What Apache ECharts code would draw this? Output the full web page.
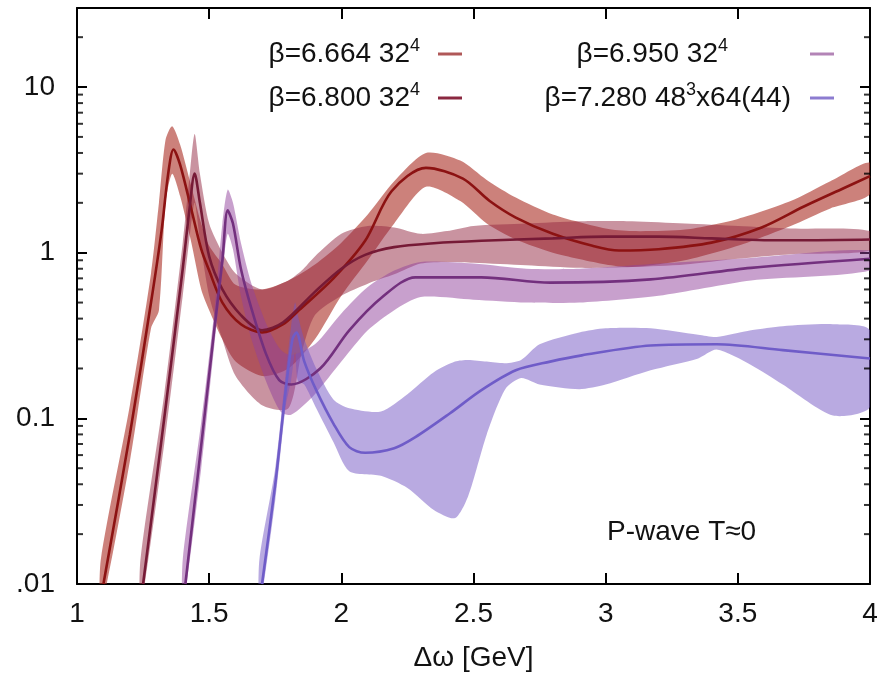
<!DOCTYPE html>
<html>
<head>
<meta charset="utf-8">
<title>P-wave spectral functions</title>
<script src="https://cdn.jsdelivr.net/npm/echarts@6/dist/echarts.min.js"></script>
<style>
  html, body { margin: 0; padding: 0; background: #fff; }
  #chart { width: 887px; height: 680px; }
</style>
</head>
<body>
<div id="chart"></div>
<script>
// ---- data: central curves and error bands, ρ(Δω) on a log scale ----
const legendNames = ['b6664', 'b6800', 'b6950', 'b7280'];
const legendTexts = {
  b6664: ['β=6.664 32', '4', ''],
  b6800: ['β=6.800 32', '4', ''],
  b6950: ['β=6.950 32', '4', ''],
  b7280: ['β=7.280 48', '3', 'x64(44)']
};

// β=6.664 32^4
const aX = [1.10, 1.20, 1.28, 1.32, 1.345, 1.365, 1.39, 1.43, 1.47, 1.50, 1.55, 1.62, 1.70, 1.78, 1.84, 1.97, 2.09, 2.19, 2.32, 2.46, 2.56, 2.66, 2.80, 2.95, 3.05, 3.20, 3.40, 3.59, 3.75, 3.90, 4.00];
const aY = [0.01, 0.08, 0.5, 1.36, 3.0, 4.2, 3.4, 1.9, 1.05, 0.78, 0.5, 0.37, 0.33, 0.37, 0.45, 0.7, 1.18, 2.35, 3.25, 2.8, 2.06, 1.63, 1.3, 1.1, 1.03, 1.05, 1.15, 1.42, 1.9, 2.45, 2.9];
const aBandX = [1.09, 1.20, 1.28, 1.31, 1.335, 1.36, 1.39, 1.43, 1.47, 1.50, 1.55, 1.60, 1.70, 1.80, 1.90, 2.00, 2.10, 2.20, 2.32, 2.45, 2.55, 2.66, 2.80, 3.00, 3.10, 3.30, 3.50, 3.70, 3.85, 4.00];
const aLo = [0.007, 0.055, 0.35, 0.45, 2.0, 3.0, 2.2, 1.2, 0.6, 0.45, 0.3, 0.22, 0.18, 0.2, 0.3, 0.55, 0.9, 1.5, 2.5, 2.05, 1.5, 1.2, 1.0, 0.85, 0.82, 0.9, 1.1, 1.45, 1.85, 2.25];
const aHi = [0.014, 0.12, 0.75, 2.0, 4.8, 5.8, 4.5, 2.6, 1.5, 1.1, 0.85, 0.64, 0.6, 0.68, 0.85, 1.15, 1.7, 2.7, 4.0, 3.6, 2.75, 2.15, 1.7, 1.4, 1.35, 1.38, 1.6, 2.05, 2.7, 3.5];

// β=6.800 32^4
const bX = [1.25, 1.33, 1.40, 1.425, 1.445, 1.465, 1.50, 1.55, 1.62, 1.70, 1.78, 1.90, 2.00, 2.09, 2.20, 2.35, 2.53, 2.80, 3.00, 3.20, 3.40, 3.60, 3.80, 4.00];
const bY = [0.01, 0.1, 0.8, 1.8, 3.0, 2.0, 0.95, 0.6, 0.42, 0.34, 0.38, 0.58, 0.8, 0.97, 1.08, 1.14, 1.18, 1.22, 1.25, 1.25, 1.22, 1.19, 1.19, 1.2];
const bBandX = [1.24, 1.33, 1.40, 1.425, 1.445, 1.465, 1.50, 1.55, 1.60, 1.70, 1.80, 1.85, 1.90, 2.00, 2.10, 2.20, 2.30, 2.40, 2.50, 2.70, 2.90, 3.10, 3.30, 3.50, 3.70, 4.00];
const bLo = [0.007, 0.07, 0.55, 1.2, 2.0, 1.2, 0.55, 0.3, 0.18, 0.12, 0.115, 0.25, 0.42, 0.55, 0.65, 0.74, 0.86, 0.88, 0.87, 0.84, 0.81, 0.82, 0.85, 0.92, 0.98, 1.03];
const bHi = [0.014, 0.14, 1.15, 2.8, 5.2, 3.0, 1.5, 1.0, 0.75, 0.6, 0.68, 0.78, 0.95, 1.3, 1.45, 1.42, 1.3, 1.35, 1.45, 1.5, 1.55, 1.55, 1.5, 1.45, 1.4, 1.35];

// β=6.950 32^4
const cX = [1.41, 1.47, 1.52, 1.55, 1.57, 1.59, 1.62, 1.66, 1.715, 1.765, 1.81, 1.92, 2.03, 2.155, 2.28, 2.53, 2.79, 3.17, 3.55, 4.00];
const cY = [0.01, 0.069, 0.35, 0.9, 1.8, 1.5, 0.8, 0.46, 0.245, 0.17, 0.16, 0.2, 0.34, 0.54, 0.71, 0.71, 0.66, 0.69, 0.81, 0.92];
const cBandX = [1.40, 1.47, 1.52, 1.55, 1.57, 1.59, 1.62, 1.66, 1.72, 1.77, 1.81, 1.90, 2.00, 2.10, 2.20, 2.30, 2.50, 2.70, 2.90, 3.20, 3.55, 4.00];
const cLo = [0.007, 0.05, 0.28, 0.75, 1.3, 1.05, 0.55, 0.3, 0.16, 0.11, 0.105, 0.14, 0.22, 0.34, 0.45, 0.54, 0.52, 0.5, 0.5, 0.55, 0.68, 0.78];
const cHi = [0.014, 0.095, 0.45, 1.5, 2.4, 2.0, 1.15, 0.65, 0.36, 0.26, 0.24, 0.28, 0.43, 0.62, 0.78, 0.88, 0.86, 0.8, 0.8, 0.86, 0.93, 1.03];

// β=7.280 48^3x64(44)
const dX = [1.70, 1.75, 1.79, 1.815, 1.83, 1.86, 1.905, 1.97, 2.03, 2.09, 2.20, 2.28, 2.41, 2.53, 2.66, 2.79, 2.91, 3.17, 3.42, 3.67, 4.00];
const dY = [0.01, 0.04, 0.15, 0.3, 0.33, 0.22, 0.148, 0.093, 0.067, 0.062, 0.066, 0.077, 0.107, 0.148, 0.195, 0.22, 0.24, 0.275, 0.28, 0.258, 0.23];
const dBandX = [1.69, 1.75, 1.79, 1.81, 1.825, 1.835, 1.86, 1.905, 1.97, 2.03, 2.15, 2.25, 2.35, 2.43, 2.48, 2.55, 2.62, 2.68, 2.75, 2.90, 3.00, 3.17, 3.35, 3.42, 3.55, 3.67, 3.86, 4.00];
const dLo = [0.007, 0.032, 0.12, 0.17, 0.25, 0.17, 0.16, 0.115, 0.072, 0.048, 0.045, 0.038, 0.028, 0.025, 0.034, 0.08, 0.15, 0.175, 0.16, 0.15, 0.16, 0.195, 0.23, 0.26, 0.21, 0.16, 0.104, 0.117];
const dHi = [0.014, 0.05, 0.19, 0.36, 0.5, 0.42, 0.3, 0.2, 0.13, 0.115, 0.11, 0.14, 0.19, 0.22, 0.225, 0.22, 0.215, 0.225, 0.28, 0.33, 0.35, 0.35, 0.32, 0.31, 0.34, 0.36, 0.37, 0.34];

// axis ticks
const xTicks = [1, 1.5, 2, 2.5, 3, 3.5, 4];
const yTickValues = [0.01, 0.1, 1, 10];
const yTickLabels = ['.01', '0.1', '1', '10'];
const yMinorTicks = [0.02, 0.03, 0.04, 0.05, 0.06, 0.07, 0.08, 0.09,
                     0.2, 0.3, 0.4, 0.5, 0.6, 0.7, 0.8, 0.9,
                     2, 3, 4, 5, 6, 7, 8, 9, 20];

// ---- styling ----
const FONT = 'Liberation Sans, Arial, Helvetica, sans-serif';
const INK = '#121212';
const lineColors = ['#8c1212', '#761a36', '#73307e', '#6f5cc8'];
const bandColors = ['rgba(170,45,35,0.6)', 'rgba(148,40,65,0.5)', 'rgba(145,65,155,0.5)', 'rgba(115,85,195,0.5)'];
const keyColors = ['#b05858', '#8a2840', '#b384b6', '#8c7cd0'];

function pairs(xs, ys) { return xs.map((x, i) => [x, ys[i]]); }

function bandSeries(xs, lo, hi, fill) {
  return {
    type: 'custom',
    coordinateSystem: 'cartesian2d',
    silent: true,
    clip: true,
    z: 1,
    data: xs.map((x, i) => [x, lo[i], hi[i]]),
    encode: { x: 0, y: [1, 2] },
    renderItem: function (params, api) {
      if (params.dataIndex !== 0) return null;
      const top = xs.map((x, i) => api.coord([x, hi[i]]));
      const bottom = xs.map((x, i) => api.coord([x, lo[i]])).reverse();
      return {
        type: 'polygon',
        shape: { points: top.concat(bottom), smooth: 0.25 },
        style: { fill: fill }
      };
    }
  };
}

function curveSeries(name, xs, ys, color) {
  return {
    type: 'line',
    name: name,
    data: pairs(xs, ys),
    showSymbol: false,
    smooth: 0.3,
    clip: true,
    z: 5,
    lineStyle: { color: color, width: 2.6 },
    itemStyle: { color: color }
  };
}

function minorTickSeries(xEdge, offset) {
  return {
    type: 'scatter',
    data: yMinorTicks.map(v => [xEdge, v]),
    symbol: 'rect',
    symbolSize: [6, 2],
    symbolOffset: [offset, 0],
    itemStyle: { color: '#000' },
    silent: true,
    clip: false,
    z: 20
  };
}

function keyEntry(idx, right, top, gap) {
  return {
    data: [{ name: legendNames[idx], icon: 'rect', itemStyle: { color: keyColors[idx] } }],
    right: right,
    top: top,
    padding: 0,
    align: 'right',
    itemWidth: 24,
    itemHeight: 3,
    selectedMode: false,
    formatter: function (name) {
      const t = legendTexts[name];
      return '{t|' + t[0] + '}{s|' + t[1] + '}' + (t[2] ? '{t|' + t[2] + '}' : '') + '{g| }';
    },
    textStyle: {
      fontFamily: FONT,
      color: INK,
      fontSize: 28,
      rich: {
        t: { fontSize: 28, lineHeight: 34, fontFamily: FONT, color: INK },
        s: { fontSize: 18, lineHeight: 16, verticalAlign: 'top', fontFamily: FONT, color: INK },
        g: { width: gap, fontSize: 28, lineHeight: 34 }
      }
    }
  };
}

const axisLineStyle = { color: '#000', width: 2 };
const chart = echarts.init(document.getElementById('chart'), null, { renderer: 'canvas' });

chart.setOption({
  animation: false,
  backgroundColor: '#fff',
  grid: { left: 77, right: 17, top: 8, bottom: 96, containLabel: false, outerBoundsMode: 'none' },
  xAxis: [
    {
      type: 'value', min: 1, max: 4, interval: 0.5, position: 'bottom',
      axisLine: { onZero: false, lineStyle: axisLineStyle },
      axisTick: { inside: true, length: 11, lineStyle: axisLineStyle },
      splitLine: { show: false },
      axisLabel: {
        fontFamily: FONT, fontSize: 28, color: INK, margin: 16,
        formatter: v => (xTicks.indexOf(v) >= 0 ? String(v) : '')
      },
      name: 'Δω [GeV]', nameLocation: 'middle', nameGap: 60,
      nameTextStyle: { fontFamily: FONT, fontSize: 28, color: INK }
    },
    {
      type: 'value', min: 1, max: 4, interval: 0.5, position: 'top',
      axisLine: { onZero: false, lineStyle: axisLineStyle },
      axisTick: { inside: true, length: 11, lineStyle: axisLineStyle },
      splitLine: { show: false },
      axisLabel: { show: false }
    }
  ],
  yAxis: [
    {
      type: 'log', logBase: 10, min: 0.01, max: 30, position: 'left',
      axisLine: { onZero: false, lineStyle: axisLineStyle },
      axisTick: { inside: true, length: 10, lineStyle: axisLineStyle },
      splitLine: { show: false },
      minorTick: { show: false },
      axisLabel: {
        fontFamily: FONT, fontSize: 28, color: INK, margin: 22,
        formatter: function (v) {
          const i = yTickValues.findIndex(t => Math.abs(t - v) < t * 1e-6);
          return i >= 0 ? yTickLabels[i] : '';
        }
      }
    },
    {
      type: 'log', logBase: 10, min: 0.01, max: 30, position: 'right',
      axisLine: { onZero: false, lineStyle: axisLineStyle },
      axisTick: { inside: true, length: 10, lineStyle: axisLineStyle },
      splitLine: { show: false },
      minorTick: { show: false },
      axisLabel: { show: false }
    }
  ],
  legend: [
    keyEntry(0, 425, 37, 13),
    keyEntry(1, 425, 81, 13),
    keyEntry(2, 53, 37, 77),
    keyEntry(3, 53, 81, 14)
  ],
  graphic: [
    {
      type: 'text', left: 607, top: 518, silent: true,
      style: { text: 'P-wave T≈0', fontFamily: FONT, fontSize: 28, fill: INK }
    }
  ],
  series: [
    bandSeries(aBandX, aLo, aHi, bandColors[0]),
    bandSeries(bBandX, bLo, bHi, bandColors[1]),
    bandSeries(cBandX, cLo, cHi, bandColors[2]),
    bandSeries(dBandX, dLo, dHi, bandColors[3]),
    curveSeries(legendNames[0], aX, aY, lineColors[0]),
    curveSeries(legendNames[1], bX, bY, lineColors[1]),
    curveSeries(legendNames[2], cX, cY, lineColors[2]),
    curveSeries(legendNames[3], dX, dY, lineColors[3]),
    minorTickSeries(1, 3),
    minorTickSeries(4, -3)
  ]
});
</script>
</body>
</html>
